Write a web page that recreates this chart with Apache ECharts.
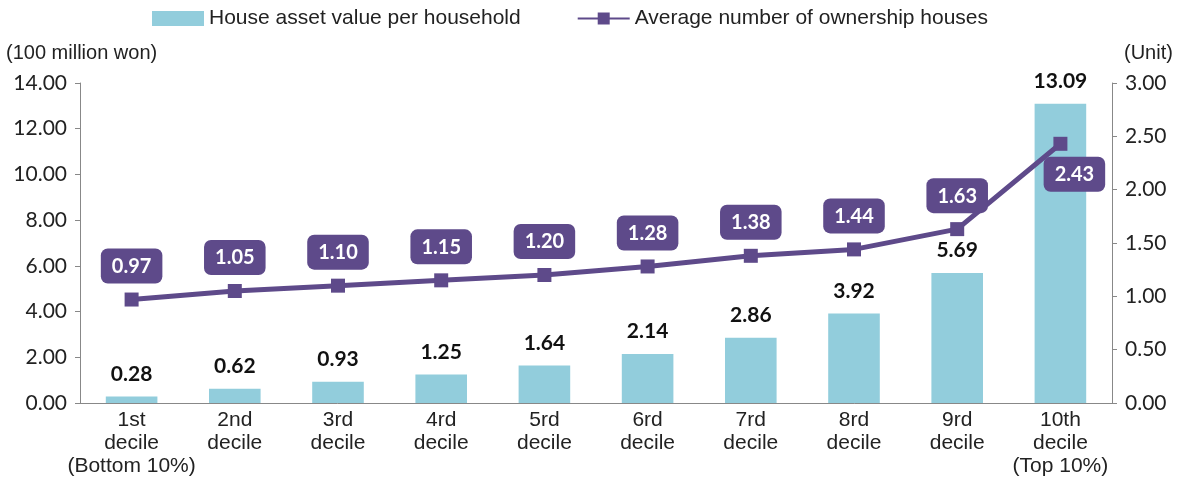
<!DOCTYPE html>
<html><head><meta charset="utf-8">
<script src="https://cdn.jsdelivr.net/npm/echarts@6/dist/echarts.min.js"></script>
<style>html,body{margin:0;padding:0;background:#fff}#c{width:1179px;height:481px}</style>
</head><body><div id="c"></div>
<script>
const categories = ['1st\ndecile\n(Bottom 10%)','2nd\ndecile','3rd\ndecile','4rd\ndecile','5rd\ndecile','6rd\ndecile','7rd\ndecile','8rd\ndecile','9rd\ndecile','10th\ndecile\n(Top 10%)'];
const assetValues = [0.28,0.62,0.93,1.25,1.64,2.14,2.86,3.92,5.69,13.09];
const houseCounts = [0.97,1.05,1.10,1.15,1.20,1.28,1.38,1.44,1.63,2.43];
const leftTicks = {min:0,max:14,interval:2};
const rightTicks = {min:0,max:3,interval:0.5};

const numFont = 'Lato, "Open Sans", sans-serif';
const txtFont = '"Liberation Sans", Arial, sans-serif';
const purple = '#5E4A8A';
const blue = '#92CDDC';

const chart = echarts.init(document.getElementById('c'));
chart.setOption({
  animation:false,
  legend:{
    top:3, left:147, itemGap:56, itemWidth:52, itemHeight:15,
    textStyle:{fontFamily:txtFont, fontSize:21, color:'#222'},
    data:[{name:'House asset value per household', icon:'rect'},{name:'Average number of ownership houses'}]
  },
  grid:{left:80, right:67, top:83, bottom:78},
  xAxis:{
    type:'category', data:categories,
    axisLine:{lineStyle:{color:'#888'}}, axisTick:{show:false},
    axisLabel:{fontFamily:txtFont, fontSize:21, color:'#222', lineHeight:23, margin:6, interval:0}
  },
  yAxis:[
    {type:'value', ...leftTicks, name:'(100 million won)', nameLocation:'end', nameGap:20,
     nameTextStyle:{fontFamily:txtFont, fontSize:20, color:'#222', align:'left', padding:[0,0,0,-74]},
     axisLine:{show:true, lineStyle:{color:'#888'}}, axisTick:{show:true, length:5, lineStyle:{color:'#888'}},
     splitLine:{show:false},
     axisLabel:{fontFamily:numFont, fontSize:21, color:'#222', formatter:v=>v.toFixed(2), margin:13}},
    {type:'value', ...rightTicks, name:'(Unit)', nameLocation:'end', nameGap:20,
     nameTextStyle:{fontFamily:txtFont, fontSize:20, color:'#222', align:'left', padding:[0,0,0,12]},
     axisLine:{show:true, lineStyle:{color:'#888'}}, axisTick:{show:true, length:5, lineStyle:{color:'#888'}},
     splitLine:{show:false},
     axisLabel:{fontFamily:numFont, fontSize:21, color:'#222', formatter:v=>v.toFixed(2), margin:13}}
  ],
  series:[
    {name:'House asset value per household', type:'bar', data:assetValues, barWidth:'50%',
     itemStyle:{color:blue},
     label:{show:true, position:'top', distance:12, fontFamily:numFont, fontWeight:'bold', fontSize:21, color:'#111', formatter:p=>p.value.toFixed(2)}},
    {name:'Average number of ownership houses', type:'line', yAxisIndex:1,
     data:houseCounts.map((v,i)=> i===houseCounts.length-1 ? {value:v, label:{position:'bottom', offset:[14,-3]}} : v),
     symbol:'rect', symbolSize:14, lineStyle:{color:purple, width:5}, itemStyle:{color:purple},
     label:{show:true, position:'top', distance:9, fontFamily:numFont, fontWeight:'bold', fontSize:20, color:'#fff',
       backgroundColor:purple, borderRadius:7, padding:[8,11,7,11], formatter:p=>p.value.toFixed(2)}}
  ]
});
</script></body></html>
